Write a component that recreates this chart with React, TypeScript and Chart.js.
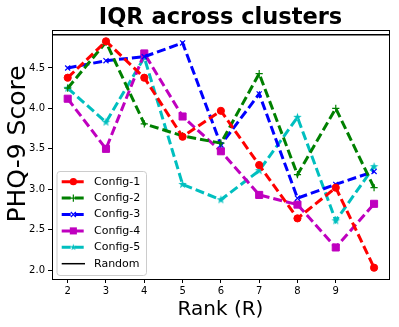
import React, { useEffect, useRef } from "react";
import { Chart, registerables } from "chart.js";

Chart.register(...registerables);

const ranks = [2, 3, 4, 5, 6, 7, 8, 9, 10];
const config1 = [4.38, 4.83, 4.38, 3.65, 3.97, 3.3, 2.64, 3.02, 2.03];
const config2 = [4.25, 4.82, 3.81, 3.66, 3.57, 4.43, 3.18, 4.0, 3.02];
const config3 = [4.5, 4.59, 4.64, 4.81, 3.55, 4.18, 2.89, 3.06, 3.22];
const config4 = [4.12, 3.5, 4.68, 3.9, 3.47, 2.93, 2.81, 2.28, 2.82];
const config5 = [4.25, 3.83, 4.63, 3.06, 2.87, 3.23, 3.89, 2.61, 3.28];
const randomLevel = 4.91;
const seriesNames = ["Config-1", "Config-2", "Config-3", "Config-4", "Config-5"];
const xTicks = [2, 3, 4, 5, 6, 7, 8, 9];
const yTicks = [2.0, 2.5, 3.0, 3.5, 4.0, 4.5];
const xMin = 1.59;
const xMax = 10.39;
const yMin = 1.89;
const yMax = 4.97;

const TITLE = "IQR across clusters";
const X_TITLE = "Rank (R)";
const Y_TITLE = "PHQ-9 Score";
const FONT = "'DejaVu Sans', sans-serif";

function makeStar(color: string, r: number) {
  const c = document.createElement("canvas");
  const s = Math.ceil(r * 2 + 2);
  c.width = s;
  c.height = s;
  const ctx = c.getContext("2d")!;
  ctx.fillStyle = color;
  ctx.beginPath();
  const cx = s / 2, cy = s / 2;
  for (let i = 0; i < 10; i++) {
    const ang = -Math.PI / 2 + (i * Math.PI) / 5;
    const rr = i % 2 === 0 ? r : r * 0.4;
    const px = cx + rr * Math.cos(ang);
    const py = cy + rr * Math.sin(ang);
    if (i === 0) ctx.moveTo(px, py);
    else ctx.lineTo(px, py);
  }
  ctx.closePath();
  ctx.fill();
  return c;
}

type Style = { color: string; point: any; radius: number; bw: number };

export default function App() {
  const ref = useRef<HTMLCanvasElement>(null);
  useEffect(() => {
    const star = makeStar("#00bfbf", 4.5);
    const starSmall = makeStar("#00bfbf", 3.5);
    const styles: Style[] = [
      { color: "#ff0000", point: "circle", radius: 3.6, bw: 1 },
      { color: "#008000", point: "cross", radius: 3.6, bw: 1.2 },
      { color: "#0000ff", point: "crossRot", radius: 3.6, bw: 1.2 },
      { color: "#bf00bf", point: "rect", radius: 5, bw: 1 },
      { color: "#00bfbf", point: star, radius: 4.5, bw: 1 },
    ];
    const values = [config1, config2, config3, config4, config5];
    const datasets: any[] = values.map((vals, i) => ({
      label: seriesNames[i],
      data: ranks.map((r, j) => ({ x: r, y: vals[j] })),
      borderColor: styles[i].color,
      backgroundColor: styles[i].color,
      borderWidth: 3,
      borderDash: [9, 4],
      pointStyle: styles[i].point,
      pointRadius: styles[i].radius,
      pointBorderWidth: styles[i].bw,
      pointBackgroundColor: styles[i].color,
      pointBorderColor: styles[i].color,
      tension: 0,
      fill: false,
    }));
    datasets.push({
      label: "Random",
      data: [
        { x: xMin, y: randomLevel },
        { x: xMax, y: randomLevel },
      ],
      borderColor: "#000000",
      backgroundColor: "#000000",
      borderWidth: 1.5,
      pointRadius: 0,
      fill: false,
    });

    const drawMarker = (ctx: CanvasRenderingContext2D, i: number, x: number, y: number) => {
      const st = styles[i];
      ctx.save();
      ctx.setLineDash([]);
      ctx.fillStyle = st.color;
      ctx.strokeStyle = st.color;
      ctx.lineWidth = st.bw;
      const r = st.radius;
      if (st.point === "circle") {
        ctx.beginPath();
        ctx.arc(x, y, r, 0, Math.PI * 2);
        ctx.fill();
      } else if (st.point === "cross") {
        ctx.beginPath();
        ctx.moveTo(x - r, y);
        ctx.lineTo(x + r, y);
        ctx.moveTo(x, y - r);
        ctx.lineTo(x, y + r);
        ctx.stroke();
      } else if (st.point === "crossRot") {
        const d = r * Math.SQRT1_2;
        ctx.beginPath();
        ctx.moveTo(x - d, y - d);
        ctx.lineTo(x + d, y + d);
        ctx.moveTo(x + d, y - d);
        ctx.lineTo(x - d, y + d);
        ctx.stroke();
      } else if (st.point === "rect") {
        const d = r * Math.SQRT1_2;
        ctx.fillRect(x - d, y - d, 2 * d, 2 * d);
      } else {
        ctx.drawImage(starSmall, x - starSmall.width / 2, y - starSmall.height / 2);
      }
      ctx.restore();
    };

    const decor = {
      id: "decor",
      afterDraw(chart: any) {
        const { ctx, chartArea: a } = chart;
        ctx.save();
        // frame
        ctx.strokeStyle = "#000";
        ctx.lineWidth = 1;
        ctx.setLineDash([]);
        ctx.strokeRect(Math.round(a.left) + 0.5, Math.round(a.top) + 0.5, Math.round(a.right - a.left), Math.round(a.bottom - a.top));
        // title
        ctx.fillStyle = "#000";
        ctx.font = `bold 22.5px ${FONT}`;
        ctx.textAlign = "center";
        ctx.textBaseline = "alphabetic";
        ctx.fillText(TITLE, (a.left + a.right) / 2, 24);
        // x title
        ctx.font = `20px ${FONT}`;
        ctx.fillText(X_TITLE, (a.left + a.right) / 2, 314.5);
        // y title
        ctx.save();
        ctx.translate(25, 144);
        ctx.rotate(-Math.PI / 2);
        ctx.font = `25px ${FONT}`;
        ctx.fillText(Y_TITLE, 0, 0);
        ctx.restore();
        // legend
        const bx = a.left + 5, by = 171.5, bw = 89.5, bh = 104;
        ctx.beginPath();
        const rr = 3;
        ctx.moveTo(bx + rr, by);
        ctx.lineTo(bx + bw - rr, by);
        ctx.quadraticCurveTo(bx + bw, by, bx + bw, by + rr);
        ctx.lineTo(bx + bw, by + bh - rr);
        ctx.quadraticCurveTo(bx + bw, by + bh, bx + bw - rr, by + bh);
        ctx.lineTo(bx + rr, by + bh);
        ctx.quadraticCurveTo(bx, by + bh, bx, by + bh - rr);
        ctx.lineTo(bx, by + rr);
        ctx.quadraticCurveTo(bx, by, bx + rr, by);
        ctx.closePath();
        ctx.fillStyle = "rgba(255,255,255,0.8)";
        ctx.fill();
        ctx.strokeStyle = "#cccccc";
        ctx.lineWidth = 1;
        ctx.stroke();
        ctx.font = `11px ${FONT}`;
        ctx.textAlign = "left";
        ctx.textBaseline = "middle";
        const ds = chart.data.datasets;
        for (let i = 0; i < ds.length; i++) {
          const y = 181.7 + i * 16.4;
          const x0 = bx + 4.7, x1 = bx + 28;
          ctx.save();
          ctx.strokeStyle = ds[i].borderColor;
          ctx.lineWidth = ds[i].borderWidth;
          ctx.setLineDash(ds[i].borderDash ? [9, 4] : []);
          ctx.beginPath();
          ctx.moveTo(x0, y);
          ctx.lineTo(x1, y);
          ctx.stroke();
          ctx.restore();
          if (i < styles.length) drawMarker(ctx, i, (x0 + x1) / 2, y);
          ctx.fillStyle = "#000";
          ctx.fillText(ds[i].label, bx + 37, y);
        }
        ctx.restore();
      },
    };

    const chart = new Chart(ref.current!, {
      type: "line",
      data: { datasets },
      options: {
        animation: false,
        responsive: false,
        devicePixelRatio: 1,
        layout: { padding: { top: 30, right: 10, left: 0, bottom: 0 } },
        plugins: { legend: { display: false }, tooltip: { enabled: false }, title: { display: false } },
        scales: {
          x: {
            type: "linear",
            min: xMin,
            max: xMax,
            afterBuildTicks: (s: any) => {
              s.ticks = xTicks.map((v) => ({ value: v }));
            },
            afterFit: (s: any) => {
              s.height = 48;
            },
            ticks: {
              color: "#000",
              font: { family: FONT, size: 10 },
              padding: 2,
              maxRotation: 0,
              autoSkip: false,
              callback: (v: any) => String(v),
            },
            grid: { drawOnChartArea: false, drawTicks: true, tickLength: 4, color: "#000" },
            border: { display: false },
          },
          y: {
            type: "linear",
            min: yMin,
            max: yMax,
            afterBuildTicks: (s: any) => {
              s.ticks = yTicks.map((v) => ({ value: v }));
            },
            afterFit: (s: any) => {
              s.width = 52;
            },
            ticks: {
              color: "#000",
              font: { family: FONT, size: 10 },
              padding: 3,
              autoSkip: false,
              callback: (v: any) => Number(v).toFixed(1),
            },
            grid: { drawOnChartArea: false, drawTicks: true, tickLength: 4, color: "#000" },
            border: { display: false },
          },
        },
      } as any,
      plugins: [decor],
    });
    return () => chart.destroy();
  }, []);
  return (
    <div style={{ position: "fixed", left: 0, top: 0, width: 399, height: 327, background: "#fff" }}>
      <canvas ref={ref} width={399} height={327} />
    </div>
  );
}
